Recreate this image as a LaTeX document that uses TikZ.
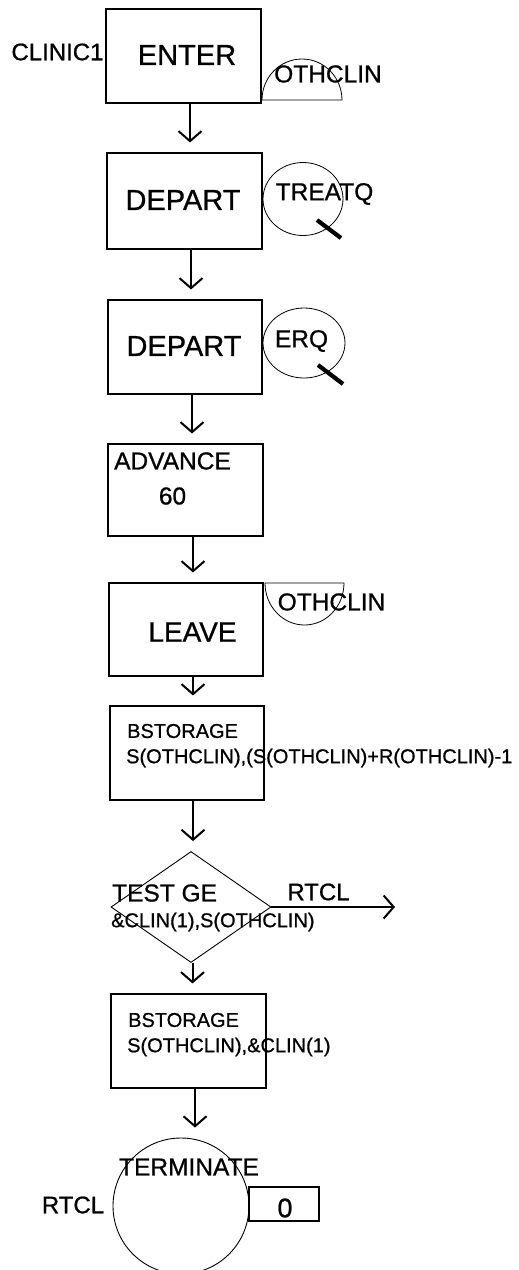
\documentclass[tikz,border=0pt]{standalone}
\usepackage{fontspec}
\setmainfont{Liberation Sans}[FakeBold=0.8]
\usetikzlibrary{shapes.geometric,arrows.meta}
\begin{document}
\begin{tikzpicture}[x=1pt,y=-1pt,
  box/.style={draw,line width=1.1pt,inner sep=0pt},
  qshape/.style={draw,ellipse,line width=0.8pt,inner sep=0pt},
  qline/.style={draw,line width=0.8pt},
  bar/.style={line width=4.2pt},
  arr/.style={line width=2pt,-{Straight Barb[length=10pt,width=23pt,line width=2pt]},shorten >=10pt},
  txt/.style={inner sep=0pt},
  fbig/.style={txt,font=\fontsize{29}{33}\selectfont},
  fmid/.style={txt,font=\fontsize{24.5}{28}\selectfont},
  fsmall/.style={txt,font=\fontsize{20}{24}\selectfont}]
\fill[white] (0,0) rectangle (519,1270);
\path[use as bounding box] (0,0) rectangle (519,1270);

% blocks
\node[box,minimum width=155pt,minimum height=94pt] (enter) at (183.5,56) {};
\node[box,minimum width=155pt,minimum height=96pt] (dep1) at (184.5,201) {};
\node[box,minimum width=154pt,minimum height=94pt] (dep2) at (185,347) {};
\node[box,minimum width=155pt,minimum height=92pt] (adv) at (185.5,490) {};
\node[box,minimum width=154pt,minimum height=93pt] (leave) at (186,629.5) {};
\node[box,minimum width=154pt,minimum height=94pt] (bst1) at (187,753) {};
\node[draw,diamond,line width=0.9pt,inner sep=0pt,minimum width=160pt,minimum height=111pt] (dia) at (191,907) {};
\node[box,minimum width=155pt,minimum height=94pt] (bst2) at (188.5,1041) {};
\node[draw,circle,line width=0.9pt,inner sep=0pt,minimum size=136pt] (term) at (181,1206) {};
\node[box,minimum width=70pt,minimum height=34pt] (zero) at (284,1204) {};

% queues / storages
\draw[qline] (262,100) arc[start angle=180,end angle=0,x radius=40pt,y radius=41pt] -- cycle;
\node[qshape,minimum width=80pt,minimum height=73pt] (treatq) at (303,199) {};
\draw[bar] (317,220) -- (341,238);
\node[qshape,minimum width=82pt,minimum height=70pt] (erq) at (304,343) {};
\draw[bar] (318,365) -- (343,384);
\draw[qline] (265,583) arc[start angle=180,end angle=360,x radius=39.5pt,y radius=42pt] -- cycle;

% connectors
\draw[arr] ([xshift=6.5pt]enter.south) -- ([xshift=6.5pt]enter.south |- dep1.north);
\draw[arr] ([xshift=6.5pt]dep1.south) -- ([xshift=6.5pt]dep1.south |- dep2.north);
\draw[arr] ([xshift=7pt]dep2.south) -- ([xshift=7pt]dep2.south |- adv.north);
\draw[arr] ([xshift=7.5pt]adv.south) -- ([xshift=7.5pt]adv.south |- leave.north);
\draw[arr] ([xshift=7pt]leave.south) -- ([xshift=7pt]leave.south |- bst1.north);
\draw[arr] ([xshift=6pt]bst1.south) -- ([xshift=6pt]bst1.south |- dia.north);
\draw[arr] ([xshift=1.5pt]dia.south) -- ([xshift=1.5pt]dia.south |- bst2.north);
\draw[arr] ([xshift=6.5pt]bst2.south) -- ([xshift=6.5pt]bst2.south |- term.north);
\coordinate (rtclend) at (395,909);
\draw[arr,shorten >=0pt] (dia.east) -- (dia.east -| rtclend);

% texts
\node[fmid,font=\fontsize{24}{28}\selectfont] (lclinic) at (57.5,52) {CLINIC1};
\node[fbig] (tenter) at (187,55) {ENTER};
\node[fmid] (tothclin1) at (328,74) {OTHCLIN};
\node[fbig] (tdep1) at (183,200) {DEPART};
\node[fmid] (ttreatq) at (324.5,194) {TREATQ};
\node[fbig] (tdep2) at (184,346) {DEPART};
\node[fmid] (terq) at (301.5,341) {ERQ};
\node[fmid] (tadv) at (172.5,461) {ADVANCE};
\node[fmid] (tsixty) at (172.5,496) {60};
\node[fmid] (tothclin2) at (331.5,602) {OTHCLIN};
\node[fbig,font=\fontsize{28}{32}\selectfont] (tleave) at (192.5,632) {LEAVE};
\node[fsmall,anchor=west] (tbst1a) at (127,731) {BSTORAGE};
\node[fsmall,anchor=west] (tbst1b) at (126,758) {S(OTHCLIN),(S(OTHCLIN)+R(OTHCLIN)-1};
\node[fmid,anchor=west] (ttest) at (112,893) {TEST GE};
\node[fsmall,anchor=west] (ttestb) at (111,922) {\&CLIN(1),S(OTHCLIN)};
\node[fmid,font=\fontsize{24}{28}\selectfont] (trtcl1) at (318.5,892) {RTCL};
\node[fsmall,anchor=west] (tbst2a) at (128,1020) {BSTORAGE};
\node[fsmall,anchor=west] (tbst2b) at (127,1047) {S(OTHCLIN),\&CLIN(1)};
\node[fmid] (tterm) at (189,1167) {TERMINATE};
\node[fmid,font=\fontsize{24}{28}\selectfont] (trtcl2) at (73,1205) {RTCL};
\node[fbig,font=\fontsize{27}{30}\selectfont] (tzero) at (285,1208) {0};
\end{tikzpicture}
\end{document}
